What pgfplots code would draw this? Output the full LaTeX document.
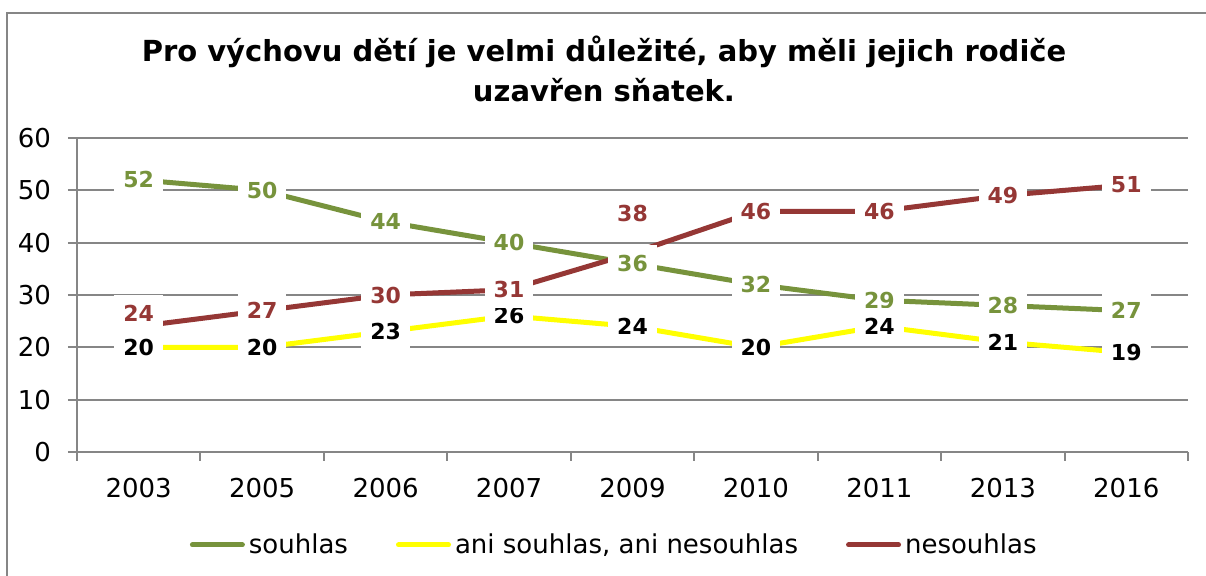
\documentclass[border=0pt]{standalone}
\usepackage{pgfplots}
\usepackage{pgfplotstable}
\pgfplotsset{compat=1.18}
\usepackage{fontspec}
\setmainfont{DejaVu Sans}
\definecolor{cgreen}{RGB}{119,147,60}
\definecolor{cred}{RGB}{149,55,53}
\definecolor{cyellow}{RGB}{255,255,0}
\definecolor{gridgray}{RGB}{134,134,134}
\definecolor{framegray}{RGB}{134,134,134}
\pgfplotstableread{
x s a n sh
0 52 20 24 6.75
1 50 20 27 0
2 44 23 30 0
3 40 26 31 0
4 36 24 38 19.75
5 32 20 46 0
6 29 24 46 0
7 28 21 49 0
8 27 19 51 0
}\datatable
\begin{document}
\begin{tikzpicture}
\useasboundingbox (0,0) rectangle (603pt,288pt);
\draw[framegray, line width=1pt] (3.5pt,0pt) -- (3.5pt,281.5pt) -- (603pt,281.5pt);
\node[font=\fontsize{14.5}{20}\selectfont\bfseries, align=center] at (302pt,253.5pt) {Pro výchovu dětí je velmi důležité, aby měli jejich rodiče\\uzavřen sňatek.};
\begin{axis}[
  at={(38.5pt,62pt)}, anchor=south west,
  scale only axis, width=555.5pt, height=157pt,
  xmin=-0.5, xmax=8.5, ymin=0, ymax=60,
  xtick={-0.5,0.5,...,8.5}, xticklabels={},
  extra x ticks={0,1,2,3,4,5,6,7,8},
  extra x tick labels={2003,2005,2006,2007,2009,2010,2011,2013,2016},
  extra x tick style={major tick length=0pt},
  xticklabel style={yshift=-9.5pt},
  yticklabel style={xshift=-5pt},
  ytick={0,10,...,60},
  axis x line*=bottom, axis y line*=left,
  axis line style={gridgray, line width=1pt},
  ymajorgrids, major grid style={gridgray, line width=1pt},
  tick align=outside,
  major tick length=4.5pt,
  tick style={gridgray, line width=1pt},
  tick label style={font=\fontsize{13}{15}\selectfont},
  /pgf/number format/assume math mode=true,
  every node near coord/.append style={anchor=center, fill=white, inner xsep=4.5pt, inner ysep=5pt, font=\fontsize{11}{12}\selectfont\bfseries},
  legend style={at={(0.4845,-0.296)}, anchor=center, draw=none, fill=none, legend columns=3, font=\fontsize{13}{15}\selectfont, /tikz/every even column/.append style={column sep=22pt}},
  legend image code/.code={\draw[#1,line cap=round] (0pt,0pt) -- (25pt,0pt);},
]
\addplot[cgreen, line width=2.5pt, line join=round, mark=none] table[x=x,y=s]{\datatable};
\addlegendentry{souhlas}
\addplot[cyellow, line width=2.5pt, line join=round, mark=none] table[x=x,y=a]{\datatable};
\addlegendentry{ani souhlas, ani nesouhlas}
\addplot[cred, line width=2.5pt, line join=round, mark=none] table[x=x,y=n]{\datatable};
\addlegendentry{nesouhlas}
\addplot[draw=none, mark=none, forget plot, nodes near coords, every node near coord/.append style={text=cgreen}] table[x=x,y=s]{\datatable};
\addplot[draw=none, mark=none, forget plot, nodes near coords, every node near coord/.append style={text=black}] table[x=x,y=a]{\datatable};
\addplot[draw=none, mark=none, forget plot, nodes near coords, visualization depends on={\thisrow{sh}\as\sh}, every node near coord/.append style={text=cred, yshift=\sh pt}] table[x=x,y=n]{\datatable};
\end{axis}
\end{tikzpicture}
\end{document}
